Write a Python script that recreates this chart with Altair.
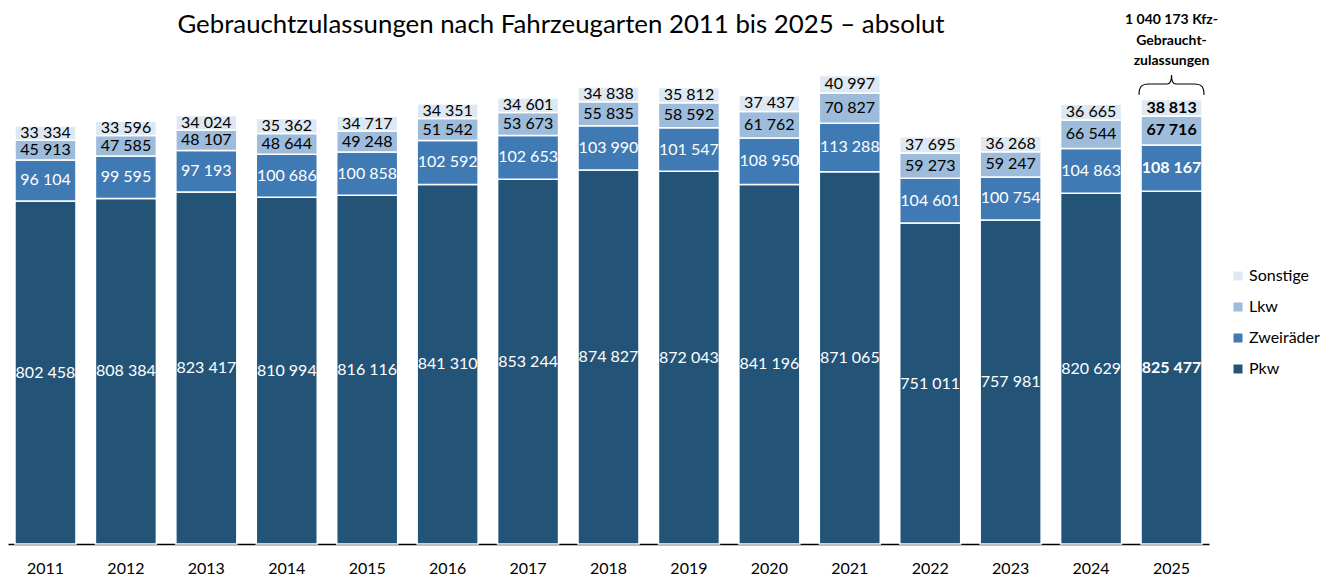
import altair as alt
import pandas as pd

years = [str(y) for y in range(2011, 2026)]
pkw = [802458, 808384, 823417, 810994, 816116, 841310, 853244, 874827, 872043,
       841196, 871065, 751011, 757981, 820629, 825477]
zweiraeder = [96104, 99595, 97193, 100686, 100858, 102592, 102653, 103990, 101547,
              108950, 113288, 104601, 100754, 104863, 108167]
lkw = [45913, 47585, 48107, 48644, 49248, 51542, 53673, 55835, 58592,
       61762, 70827, 59273, 59247, 66544, 67716]
sonstige = [33334, 33596, 34024, 35362, 34717, 34351, 34601, 34838, 35812,
            37437, 40997, 37695, 36268, 36665, 38813]

categories = ["Pkw", "Zweiräder", "Lkw", "Sonstige"]
legend_order = ["Sonstige", "Lkw", "Zweiräder", "Pkw"]
colors = ["#DEE8F3", "#9DBBDB", "#3F7AB4", "#235478"]
title_text = "Gebrauchtzulassungen nach Fahrzeugarten 2011 bis 2025 – absolut"

# curly brace symbol shape (unit square, opening downwards)
BRACE_SHAPE = ("M -1 0.31 C -1 0.05 -0.92 -0.03 -0.7 -0.03 L -0.14 -0.03 "
               "C -0.04 -0.03 0 -0.12 0 -0.31 C 0 -0.12 0.04 -0.03 0.14 -0.03 "
               "L 0.7 -0.03 C 0.92 -0.03 1 0.05 1 0.31")


def fmt(v):
    return f"{v:,}".replace(",", " ")


series = [pkw, zweiraeder, lkw, sonstige]
rows = []
for i, y in enumerate(years):
    for o, (cat, vals) in enumerate(zip(categories, series)):
        rows.append({"year": y, "cat": cat, "value": vals[i], "ord": o, "label": fmt(vals[i])})
df = pd.DataFrame(rows)

total_last = sum(s[-1] for s in series)
annot_text = f"{fmt(total_last)} Kfz-\nGebraucht-\nzulassungen"

FONT = "Lato"
yscale = alt.Scale(domain=[0, 1240000])
xenc = alt.X("year:N", sort=years, title=None,
             scale=alt.Scale(paddingInner=0.242, paddingOuter=0.087),
             axis=alt.Axis(labelAngle=0, ticks=False, labelFontSize=16, labelFont=FONT,
                           labelColor="black", domainColor="black", domainWidth=1.5,
                           labelPadding=16, grid=False))

bars = alt.Chart(df).mark_bar(stroke="white", strokeWidth=1.5).encode(
    x=xenc,
    y=alt.Y("value:Q", stack="zero", scale=yscale, axis=None),
    color=alt.Color("cat:N", scale=alt.Scale(domain=legend_order, range=colors),
                    legend=alt.Legend(title=None, orient="none", legendX=1222, legendY=254,
                                      symbolType="square", symbolSize=81, labelFontSize=16,
                                      labelFont=FONT, labelColor="black", rowPadding=15,
                                      padding=0, labelOffset=3, symbolStrokeWidth=0)),
    order=alt.Order("ord:Q", sort="ascending"),
)

stacked = alt.Chart(df).transform_stack(
    stack="value", groupby=["year"], as_=["y0", "y1"],
    sort=[alt.SortField("ord", order="ascending")],
).transform_calculate(mid="(datum.y0 + datum.y1) / 2")

txt_color = alt.condition("datum.ord < 2", alt.value("white"), alt.value("black"))

labels_normal = stacked.transform_filter("datum.year != '2025'").mark_text(
    fontSize=16, font=FONT, align="center", baseline="middle"
).encode(x=alt.X("year:N", sort=years), y=alt.Y("mid:Q", scale=yscale, axis=None),
         text="label:N", color=txt_color)

labels_bold = stacked.transform_filter("datum.year == '2025'").mark_text(
    fontSize=16, font=FONT, fontWeight="bold", align="center", baseline="middle"
).encode(x=alt.X("year:N", sort=years), y=alt.Y("mid:Q", scale=yscale, axis=None),
         text="label:N", color=txt_color)

title_layer = alt.Chart(pd.DataFrame({"t": [title_text]})).mark_text(
    fontSize=25.8, font=FONT, align="center", baseline="middle", color="black"
).encode(x=alt.value(553), y=alt.value(11), text="t:N")

annot = alt.Chart(pd.DataFrame({"year": [years[-1]], "t": [annot_text]})).mark_text(
    fontSize=14, font=FONT, fontWeight="bold", align="center", baseline="middle",
    lineBreak="\n", lineHeight=20.5, color="black"
).encode(x=alt.X("year:N", sort=years), y=alt.value(6), text="t:N")

brace = alt.Chart(pd.DataFrame({"year": [years[-1]]})).mark_point(
    shape=BRACE_SHAPE, filled=False, stroke="black", strokeWidth=1.1, opacity=1,
    size=4225
).encode(x=alt.X("year:N", sort=years), y=alt.value(71))

chart = alt.layer(bars, labels_normal, labels_bold, title_layer, annot, brace).properties(
    width=1201, height=530,
    padding={"left": 0, "top": 4, "right": 0, "bottom": 0},
).configure_view(stroke=None)

chart.save("out.html", embed_options={"renderer": "svg", "actions": False})
